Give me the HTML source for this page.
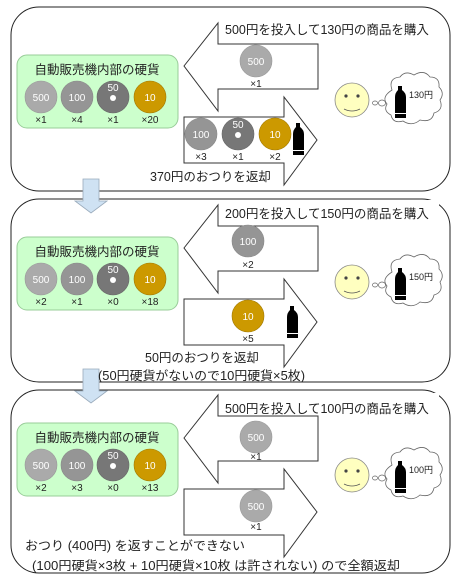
<!DOCTYPE html>
<html><head><meta charset="utf-8"><style>
body{margin:0;background:#fff}
text{font-family:"Liberation Sans","Noto Sans CJK JP",sans-serif}
</style></head><body>
<svg width="462" height="580" viewBox="0 0 462 580" xmlns="http://www.w3.org/2000/svg">
<defs>
<g id="c500"><circle r="16" fill="#aaaaaa" stroke="#999" stroke-width="0.6"/><text y="4" text-anchor="middle" font-size="10" fill="#fff">500</text></g>
<g id="c100"><circle r="16" fill="#959595" stroke="#888" stroke-width="0.6"/><text y="4" text-anchor="middle" font-size="10" fill="#fff">100</text></g>
<g id="c50"><circle r="16" fill="#777777" stroke="#666" stroke-width="0.6"/><circle cy="1" r="3" fill="#fff"/><text y="-6" text-anchor="middle" font-size="10" fill="#fff">50</text></g>
<g id="c10"><circle r="16" fill="#cc9900" stroke="#a07800" stroke-width="0.6"/><text y="4" text-anchor="middle" font-size="10" fill="#fff">10</text></g>
<g id="bottle"><path d="M3,0 h4 v4 q4,3 4,7 v21 h-11 v-21 q0,-4 3,-7z" fill="#000"/><rect x="0" y="27" width="11" height="1" fill="#fff"/></g>
<g id="face"><circle cx="352" cy="100" r="17" fill="#ffffc0" stroke="#888" stroke-width="0.8"/>
<circle cx="346" cy="96" r="1.6" fill="#444"/><circle cx="358" cy="96" r="1.6" fill="#444"/>
<path d="M344,109 q8,4 16,0" fill="none" stroke="#555" stroke-width="0.8"/>
<ellipse cx="375" cy="103" rx="2.5" ry="2" fill="#fff" stroke="#666" stroke-width="0.7"/>
<ellipse cx="382" cy="103" rx="3.5" ry="3" fill="#fff" stroke="#666" stroke-width="0.7"/>
<path d="M392,90 q-4,-12 8,-13 q5,-7 14,-2 q10,-6 16,2 q10,0 9,10 q6,6 1,13 q4,10 -6,13 q-2,10 -14,7 q-8,7 -17,1 q-10,3 -12,-6 q-8,-4 -4,-11 q-6,-7 5,-14z" fill="#fff" stroke="#666" stroke-width="0.8"/>
</g>
<polygon id="la" points="184,66 218,23 218,44 318,44 318,89 218,89 218,111" fill="#fff" stroke="#333" stroke-width="1"/>
<polygon id="ra" points="184,117 284,117 284,97 317,140 284,185 284,163 184,163" fill="#fff" stroke="#333" stroke-width="1"/>
<g id="green"><rect x="17" y="55" width="161" height="73" rx="10" fill="#ccffcc" stroke="#99cc99"/>
<text x="97" y="74" text-anchor="middle" font-size="12.5" fill="#222">自動販売機内部の硬貨</text>
<use href="#c500" x="41" y="97"/><use href="#c100" x="77" y="97"/><use href="#c50" x="113" y="97"/><use href="#c10" x="150" y="97"/></g>
</defs>
<rect x="11" y="7" width="439" height="184" rx="28" fill="#fff" stroke="#222"/>
<rect x="11" y="199" width="439" height="183" rx="28" fill="#fff" stroke="#222"/>
<rect x="11" y="390" width="439" height="183" rx="28" fill="#fff" stroke="#222"/>
<polygon points="83,179 99,179 99,201 107,201 91,213 75,201 83,201" fill="#cfe2f3" stroke="#9ab" stroke-width="0.8"/>
<polygon points="83,369 99,369 99,391 107,391 91,403 75,391 83,391" fill="#cfe2f3" stroke="#9ab" stroke-width="0.8"/>

<g font-size="10" fill="#222">
<use href="#la"/><use href="#ra"/>
<rect x="219" y="18" width="220" height="24" fill="#fff"/>
<text x="225" y="34" font-size="12.5">500円を投入して130円の商品を購入</text>
<use href="#c500" x="256" y="61"/><text x="256" y="87" text-anchor="middle">×1</text>
<use href="#c100" x="201" y="134"/><use href="#c50" x="238" y="134"/><use href="#c10" x="275" y="134"/>
<text x="201" y="160" text-anchor="middle">×3</text><text x="238" y="160" text-anchor="middle">×1</text><text x="275" y="160" text-anchor="middle">×2</text>
<use href="#bottle" x="293" y="123"/>
<text x="150" y="181" font-size="12.5">370円のおつりを返却</text>
<use href="#green"/>
<text x="41" y="123" text-anchor="middle">×1</text><text x="77" y="123" text-anchor="middle">×4</text><text x="113" y="123" text-anchor="middle">×1</text><text x="150" y="123" text-anchor="middle">×20</text>
<use href="#face"/><use href="#bottle" x="395" y="86"/><text x="409" y="98" font-size="9">130円</text>
</g>

<g font-size="10" fill="#222" transform="translate(0,182)">
<use href="#la"/><use href="#ra"/>
<rect x="219" y="18" width="220" height="24" fill="#fff"/>
<text x="225" y="36" font-size="12.5">200円を投入して150円の商品を購入</text>
<use href="#c100" x="248" y="59"/><text x="248" y="86" text-anchor="middle">×2</text>
<use href="#c10" x="248" y="134"/><text x="248" y="160" text-anchor="middle">×5</text>
<use href="#bottle" x="287" y="124"/>
<text x="145" y="180" font-size="12.5">50円のおつりを返却</text>
<text x="98" y="198" font-size="12.5" textLength="207" lengthAdjust="spacingAndGlyphs">(50円硬貨がないので10円硬貨×5枚)</text>
<use href="#green"/>
<text x="41" y="123" text-anchor="middle">×2</text><text x="77" y="123" text-anchor="middle">×1</text><text x="113" y="123" text-anchor="middle">×0</text><text x="150" y="123" text-anchor="middle">×18</text>
<use href="#face"/><use href="#bottle" x="395" y="86"/><text x="409" y="98" font-size="9">150円</text>
</g>

<g font-size="10" fill="#222">
<g transform="translate(0,372)"><use href="#la"/><use href="#ra"/></g>
<rect x="219" y="393" width="220" height="22" fill="#fff"/>
<text x="225" y="413" font-size="12.5">500円を投入して100円の商品を購入</text>
<use href="#c500" x="256" y="437"/><text x="256" y="460" text-anchor="middle">×1</text>
<use href="#c500" x="256" y="506"/><text x="256" y="530" text-anchor="middle">×1</text>
<g transform="translate(0,368)"><use href="#green"/>
<text x="41" y="123" text-anchor="middle">×2</text><text x="77" y="123" text-anchor="middle">×3</text><text x="113" y="123" text-anchor="middle">×0</text><text x="150" y="123" text-anchor="middle">×13</text></g>
<g transform="translate(0,375)"><use href="#face"/><use href="#bottle" x="395" y="86"/><text x="409" y="98" font-size="9">100円</text></g>
<text x="25" y="550" font-size="12.5" textLength="220" lengthAdjust="spacingAndGlyphs">おつり (400円) を返すことができない</text>
<text x="32" y="570" font-size="12.5" textLength="368" lengthAdjust="spacingAndGlyphs">(100円硬貨×3枚 + 10円硬貨×10枚 は許されない) ので全額返却</text>
</g>
</svg>
</body></html>
